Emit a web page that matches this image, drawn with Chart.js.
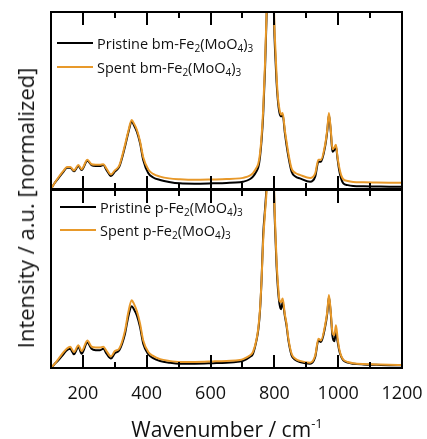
<!DOCTYPE html>
<html>
<head>
<meta charset="utf-8">
<script src="https://cdn.jsdelivr.net/npm/chart.js@4"></script>
<style>
  html, body { margin: 0; padding: 0; background: #fff; }
  body { width: 427px; height: 439px; position: relative; overflow: hidden; font-family: "Open Sans", sans-serif; }
  .wrap { position: absolute; left: 0; }
  .legend { position: absolute; font-size: 14.5px; color: #111; }
  .legend .row { position: absolute; white-space: nowrap; display: flex; align-items: center; height: 20px; }
  .legend .sw { display: inline-block; width: 36px; height: 2px; margin-right: 4px; }
  .legend sub { font-size: 10px; vertical-align: -3px; line-height: 0; }
  .ytitle { position: absolute; left: 25px; top: 208px; transform: translate(-50%, -50%) rotate(-90deg); white-space: nowrap; font-size: 22px; color: #111; }
  .xtitle { position: absolute; left: 227px; top: 429px; transform: translate(-50%, -50%); white-space: nowrap; font-size: 21px; color: #111; }
  .xtitle sup { font-size: 13px; vertical-align: 9px; line-height: 0; }
</style>
</head>
<body>
<div class="wrap" style="top:0px"><canvas id="c1" width="427" height="190"></canvas></div>
<div class="wrap" style="top:189px"><canvas id="c2" width="427" height="250"></canvas></div>
<div class="legend" id="leg1"></div>
<div class="legend" id="leg2"></div>
<div class="ytitle">Intensity / a.u. [normalized]</div>
<div class="xtitle">Wavenumber / cm<sup>-1</sup></div>
<script>
// ---- data ----
const wavenumber = [100,110,123,140,150,160,172,186,196,214,227,240,253,264,274,288,300,314,332,342,353,360,369,379,389,405,420,442,470,504,550,608,650,692,702,723,733,744,750,755,760,765,771,776,782,788,794,799,803,807,811,816,821,826,833,838,844,854,866,880,912,928,938,946,959,966,971,977,982,988,993,998,1003,1009,1016,1030,1047,1080,1120,1160,1200];

const pristineBm = [0,0.03,0.06,0.10,0.12,0.12,0.10,0.13,0.107,0.16,0.135,0.13,0.13,0.135,0.107,0.073,0.098,0.126,0.24,0.316,0.38,0.36,0.324,0.26,0.164,0.089,0.065,0.051,0.04,0.032,0.03,0.032,0.034,0.038,0.041,0.055,0.07,0.1,0.126,0.18,0.277,0.42,0.69,1.0,1.5,1.8,1.6,0.955,0.75,0.6,0.5,0.43,0.41,0.42,0.315,0.25,0.183,0.098,0.07,0.06,0.041,0.07,0.154,0.154,0.24,0.33,0.42,0.32,0.21,0.22,0.24,0.17,0.107,0.06,0.032,0.022,0.017,0.015,0.014,0.013,0.013];

const spentBm = [0,0.03,0.065,0.105,0.125,0.125,0.105,0.135,0.112,0.165,0.14,0.137,0.137,0.14,0.115,0.082,0.105,0.133,0.25,0.325,0.39,0.37,0.335,0.27,0.18,0.11,0.085,0.07,0.06,0.055,0.052,0.054,0.056,0.06,0.063,0.075,0.09,0.12,0.145,0.2,0.3,0.45,0.72,1.02,1.5,1.8,1.65,1.0,0.8,0.64,0.52,0.45,0.42,0.43,0.33,0.27,0.2,0.115,0.09,0.08,0.062,0.088,0.165,0.165,0.25,0.34,0.43,0.33,0.225,0.235,0.25,0.18,0.125,0.08,0.055,0.045,0.04,0.038,0.037,0.036,0.035];

const pristineP = [0,0.02,0.043,0.08,0.1,0.108,0.077,0.118,0.08,0.143,0.108,0.1,0.1,0.108,0.08,0.053,0.083,0.1,0.193,0.287,0.347,0.33,0.296,0.23,0.137,0.077,0.055,0.039,0.03,0.024,0.024,0.027,0.03,0.037,0.04,0.062,0.08,0.155,0.22,0.32,0.5,0.75,0.9,1.05,1.5,1.8,1.6,0.98,0.75,0.57,0.45,0.36,0.33,0.37,0.29,0.24,0.155,0.071,0.045,0.034,0.024,0.062,0.155,0.146,0.23,0.31,0.4,0.3,0.18,0.15,0.2,0.15,0.1,0.065,0.043,0.03,0.024,0.02,0.018,0.016,0.015];

const spentP = [0,0.02,0.05,0.09,0.11,0.12,0.09,0.128,0.095,0.155,0.12,0.115,0.115,0.12,0.095,0.065,0.095,0.11,0.21,0.31,0.38,0.36,0.32,0.25,0.155,0.09,0.068,0.05,0.04,0.034,0.034,0.037,0.04,0.045,0.05,0.07,0.09,0.16,0.23,0.33,0.5,0.72,0.88,1.02,1.5,1.8,1.65,1.02,0.78,0.6,0.48,0.38,0.37,0.39,0.3,0.25,0.165,0.08,0.052,0.04,0.03,0.07,0.165,0.155,0.24,0.32,0.41,0.31,0.2,0.185,0.24,0.17,0.11,0.07,0.047,0.034,0.027,0.022,0.02,0.018,0.017];

const labelsTop = ['Pristine bm-Fe2(MoO4)3', 'Spent bm-Fe2(MoO4)3'];
const labelsBottom = ['Pristine p-Fe2(MoO4)3', 'Spent p-Fe2(MoO4)3'];
const xTickLabels = [200, 400, 600, 800, 1000, 1200];
const xMinorTicks = [300, 500, 700, 900, 1100];

const BLACK = '#000000';
const ORANGE = '#E8992A';

function pts(ys) { return wavenumber.map((x, i) => ({ x: x, y: ys[i] })); }

function ds(label, ys, color, order) {
  return {
    label: label, data: pts(ys), borderColor: color, borderWidth: 2,
    pointRadius: 0, fill: false, cubicInterpolationMode: 'monotone', order: order
  };
}

const framePlugin = {
  id: 'frame',
  afterDatasetsDraw(chart) {
    const ctx = chart.ctx, a = chart.chartArea, xs = chart.scales.x;
    ctx.save();
    ctx.strokeStyle = '#000';
    ctx.lineWidth = 2;
    ctx.strokeRect(a.left, a.top, a.right - a.left, a.bottom - a.top);
    const draw = (v, len) => {
      const px = Math.round(xs.getPixelForValue(v));
      ctx.beginPath();
      ctx.moveTo(px, a.top); ctx.lineTo(px, a.top + len);
      ctx.moveTo(px, a.bottom); ctx.lineTo(px, a.bottom - len);
      ctx.stroke();
    };
    xTickLabels.forEach(v => { if (v < 1200) draw(v, 13); });
    xMinorTicks.forEach(v => draw(v, 6));
    ctx.restore();
  }
};

function makeChart(id, labels, ysPristine, ysSpent, showX, padding) {
  return new Chart(document.getElementById(id), {
    type: 'line',
    data: { datasets: [ ds(labels[0], ysPristine, BLACK, 1), ds(labels[1], ysSpent, ORANGE, 0) ] },
    options: {
      responsive: false, animation: false, devicePixelRatio: 1,
      layout: { padding: padding },
      plugins: { legend: { display: false }, tooltip: { enabled: false } },
      scales: {
        x: {
          type: 'linear', min: 100, max: 1200, display: showX,
          grid: { display: false, drawTicks: false },
          border: { display: false },
          afterBuildTicks: s => { s.ticks = xTickLabels.map(v => ({ value: v })); },
          afterFit: s => { if (s.options.display) { s.paddingLeft = 0; s.paddingRight = 0; s.height = 37; } },
          ticks: { padding: 15, color: '#111', font: { family: 'Open Sans', size: 18 }, maxRotation: 0, autoSkip: false,
                   callback: v => String(v) }
        },
        y: { min: 0, max: 1, display: false }
      }
    },
    plugins: [framePlugin]
  });
}

const c1 = makeChart('c1', labelsTop, pristineBm, spentBm, false, { left: 51, right: 25, top: 12, bottom: 1 });
const c2 = makeChart('c2', labelsBottom, pristineP, spentP, true, { left: 51, right: 25, top: 1, bottom: 34 });

function fmt(s) { return s.replace(/([A-Za-z\)])(\d+)/g, '$1<sub>$2</sub>'); }
function buildLegend(el, chart, left, top, gap) {
  chart.data.datasets.forEach((d, i) => {
    const r = document.createElement('div');
    r.className = 'row';
    r.style.left = left + 'px';
    r.style.top = (top + i * gap) + 'px';
    r.innerHTML = '<span class="sw" style="background:' + d.borderColor + '"></span><span>' + fmt(d.label) + '</span>';
    el.appendChild(r);
  });
}
buildLegend(document.getElementById('leg1'), c1, 57, 33, 24);
buildLegend(document.getElementById('leg2'), c2, 60, 197, 23);
</script>
</body>
</html>
